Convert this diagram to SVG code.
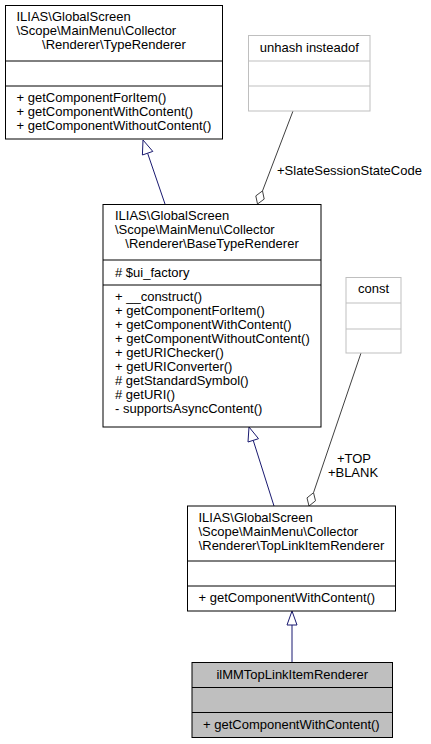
<svg xmlns="http://www.w3.org/2000/svg" width="431" height="744" viewBox="0 0 431 744">
<style>
  text { font-family: "Liberation Sans", Arial, sans-serif; font-size: 13px; fill: #000; }
  .box { fill: #fff; stroke: #000; stroke-width: 1; }
  .gbox { fill: #fff; stroke: #bfbfbf; stroke-width: 1; }
  .cur { fill: #bfbfbf; stroke: #000; stroke-width: 1; }
  .sep { stroke: #000; stroke-width: 1; }
  .gsep { stroke: #bfbfbf; stroke-width: 1; }
  .mid { text-anchor: middle; }
  .inh { stroke: #191970; stroke-width: 1; fill: none; }
  .inhhead { stroke: #191970; stroke-width: 1; fill: #fff; }
  .use { stroke: #404040; stroke-width: 1; fill: none; }
  .usehead { stroke: #404040; stroke-width: 1; fill: #fff; }
</style>
<rect width="431" height="744" fill="#fff"/>

<g id="connectors">
  <line class="inh" x1="165" y1="204" x2="147.6" y2="153.2"/>
  <polygon class="inhhead" points="143,140 152.8,151.4 142.4,155"/>
  <line class="inh" x1="274" y1="506" x2="253.2" y2="440.3"/>
  <polygon class="inhhead" points="249,427 258.5,438.7 248,442"/>
  <line class="inh" x1="292" y1="662" x2="292" y2="625"/>
  <polygon class="inhhead" points="292,611 297,625 287,625"/>
  <line class="use" x1="293" y1="111" x2="262.5" y2="190.9"/>
  <polygon class="usehead" points="257.5,204 264.2,199.1 262.5,190.9 255.8,195.9"/>
  <text x="277" y="175">+SlateSessionStateCode</text>
  <line class="use" x1="361" y1="353" x2="313.5" y2="492.7"/>
  <polygon class="usehead" points="309,506 315.5,500.8 313.5,492.7 307,497.9"/>
  <text class="mid" x="354" y="463">+TOP</text>
  <text class="mid" x="353" y="476.5">+BLANK</text>
</g>

<g id="node-TypeRenderer">
  <rect class="box" x="5.5" y="5.5" width="217" height="133.5"/>
  <line class="sep" x1="5.5" y1="61" x2="222.5" y2="61"/>
  <line class="sep" x1="5.5" y1="86" x2="222.5" y2="86"/>
  <text x="16.5" y="20.5">ILIAS\GlobalScreen</text>
  <text x="16.5" y="34.5">\Scope\MainMenu\Collector</text>
  <text class="mid" x="114" y="48.5">\Renderer\TypeRenderer</text>
  <text x="16.5" y="101.5">+ getComponentForItem()</text>
  <text x="16.5" y="115.5">+ getComponentWithContent()</text>
  <text x="16.5" y="129.5">+ getComponentWithoutContent()</text>
</g>

<g id="node-unhash">
  <rect class="gbox" x="248.5" y="35.5" width="121.5" height="75.5"/>
  <line class="gsep" x1="248.5" y1="61" x2="370" y2="61"/>
  <line class="gsep" x1="248.5" y1="86" x2="370" y2="86"/>
  <text class="mid" x="309.25" y="51.5">unhash insteadof</text>
</g>

<g id="node-BaseTypeRenderer">
  <rect class="box" x="103" y="204.5" width="218" height="222.5"/>
  <line class="sep" x1="103" y1="260" x2="321" y2="260"/>
  <line class="sep" x1="103" y1="285" x2="321" y2="285"/>
  <text x="115" y="219.5">ILIAS\GlobalScreen</text>
  <text x="115" y="233.5">\Scope\MainMenu\Collector</text>
  <text class="mid" x="212" y="247.5">\Renderer\BaseTypeRenderer</text>
  <text x="115" y="276.5">#  $ui_factory</text>
  <text x="115" y="300.5">+ __construct()</text>
  <text x="115" y="314.5">+ getComponentForItem()</text>
  <text x="115" y="328.5">+ getComponentWithContent()</text>
  <text x="115" y="342.5">+ getComponentWithoutContent()</text>
  <text x="115" y="356.5">+ getURIChecker()</text>
  <text x="115" y="370.5">+ getURIConverter()</text>
  <text x="115" y="384.5"># getStandardSymbol()</text>
  <text x="115" y="398.5"># getURI()</text>
  <text x="115" y="412.5">- supportsAsyncContent()</text>
</g>

<g id="node-const">
  <rect class="gbox" x="346" y="277.5" width="55" height="75.5"/>
  <line class="gsep" x1="346" y1="303" x2="401" y2="303"/>
  <line class="gsep" x1="346" y1="329" x2="401" y2="329"/>
  <text class="mid" x="373.5" y="293">const</text>
</g>

<g id="node-TopLinkItemRenderer">
  <rect class="box" x="187.5" y="506" width="208" height="105"/>
  <line class="sep" x1="187.5" y1="561" x2="395.5" y2="561"/>
  <line class="sep" x1="187.5" y1="586" x2="395.5" y2="586"/>
  <text x="198.5" y="521.5">ILIAS\GlobalScreen</text>
  <text x="198.5" y="535.5">\Scope\MainMenu\Collector</text>
  <text class="mid" x="291.5" y="549.5">\Renderer\TopLinkItemRenderer</text>
  <text x="198.5" y="601.5">+ getComponentWithContent()</text>
</g>

<g id="node-ilMMTopLinkItemRenderer">
  <rect class="cur" x="192" y="662.5" width="200.5" height="75"/>
  <line class="sep" x1="192" y1="687.5" x2="392.5" y2="687.5"/>
  <line class="sep" x1="192" y1="712.5" x2="392.5" y2="712.5"/>
  <text class="mid" x="292.25" y="679">ilMMTopLinkItemRenderer</text>
  <text x="203" y="728.5">+ getComponentWithContent()</text>
</g>
</svg>
